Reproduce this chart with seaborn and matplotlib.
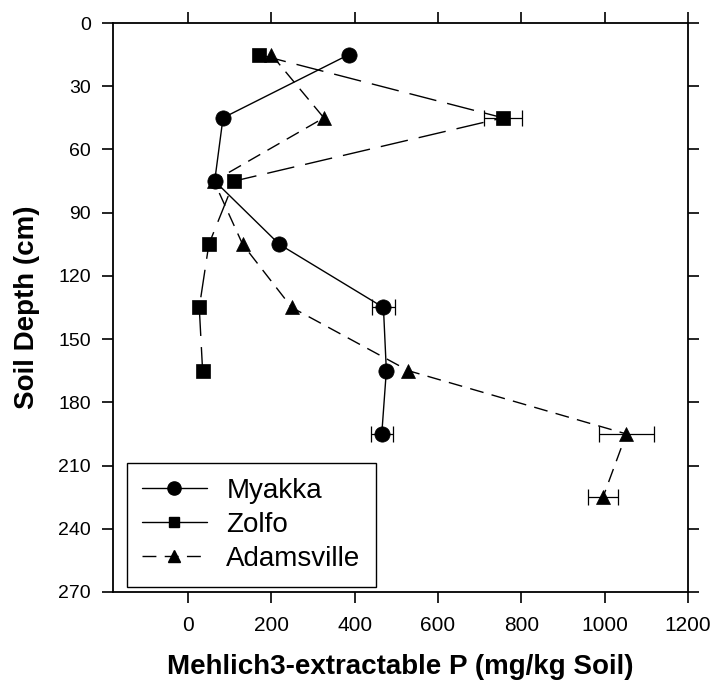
import matplotlib
matplotlib.use("Agg")
import matplotlib.pyplot as plt
from matplotlib.lines import Line2D
import seaborn as sns
import numpy as np

# ---- data ----
myakka_depth = [15, 45, 75, 105, 135, 165, 195]
myakka_p = [386, 84, 64, 219, 469, 476, 465]
myakka_err = [0, 0, 0, 0, 27, 0, 26]

zolfo_depth = [15, 45, 75, 105, 135, 165]
zolfo_p = [170, 756, 111, 50, 27, 35]
zolfo_err = [0, 45, 0, 0, 0, 0]

adams_depth = [15, 45, 75, 105, 135, 165, 195, 225]
adams_p = [200, 326, 62, 131, 249, 529, 1052, 996]
adams_err = [0, 0, 0, 0, 0, 0, 66, 37]

series_names = ["Myakka", "Zolfo", "Adamsville"]
x_ticks = [0, 200, 400, 600, 800, 1000, 1200]
y_ticks = [0, 30, 60, 90, 120, 150, 180, 210, 240, 270]

sns.set_theme(style="ticks")
plt.rcParams["font.family"] = ["Liberation Sans", "DejaVu Sans"]
plt.rcParams["text.color"] = "black"
plt.rcParams["axes.labelcolor"] = "black"
plt.rcParams["xtick.color"] = "black"
plt.rcParams["ytick.color"] = "black"

fig = plt.figure(figsize=(7.14, 6.85), dpi=100)
ax = fig.add_axes([0.1583, 0.1358, 0.8053, 0.8306])

specs = [
    (myakka_p, myakka_depth, myakka_err, "o", 11, "-"),
    (zolfo_p, zolfo_depth, zolfo_err, "s", 9.5, (0, (20, 8))),
    (adams_p, adams_depth, adams_err, "^", 10.5, (0, (10, 6))),
]

for vals, depths, errs, mk, ms, ls in specs:
    v = np.array(vals, dtype=float)
    d = np.array(depths, dtype=float)
    e = np.array(errs, dtype=float)
    m = e > 0
    ax.errorbar(v[m], d[m], xerr=e[m], fmt="none", ecolor="black",
                elinewidth=0.9, capsize=5.5, capthick=0.9, zorder=2)
    sns.lineplot(x=v, y=d, ax=ax, sort=False, estimator=None, color="black",
                 linewidth=1.0, linestyle=ls, marker=mk, markersize=ms,
                 markeredgecolor="black", markerfacecolor="black",
                 markeredgewidth=0.5, legend=False, zorder=3)

ax.set_xlim(-180, 1200)
ax.set_ylim(270, 0)
ax.set_xticks(x_ticks)
ax.set_yticks(y_ticks)
ax.tick_params(axis="both", direction="out", length=8, width=1.2,
               top=True, right=True, labeltop=False, labelright=False,
               colors="black", labelcolor="black")
ax.tick_params(axis="x", labelsize=15, pad=9)
ax.tick_params(axis="y", labelsize=14, pad=8)
for sp in ax.spines.values():
    sp.set_visible(True)
    sp.set_linewidth(1.3)
    sp.set_color("black")

ax.set_xlabel("Mehlich3-extractable P (mg/kg Soil)", fontsize=20,
              fontweight="bold", labelpad=14, color="black")
ax.set_ylabel("Soil Depth (cm)", fontsize=20, fontweight="bold", labelpad=13,
              color="black")

handles = [
    Line2D([], [], color="black", marker="o", markersize=9.5, linestyle="-", linewidth=1),
    Line2D([], [], color="black", marker="s", markersize=7.5, linestyle="-", linewidth=1),
    Line2D([], [], color="black", marker="^", markersize=9, linestyle=(0, (10, 6)), linewidth=1),
]
leg = ax.legend(handles, series_names, loc="lower left",
                bbox_to_anchor=(0.024, 0.009), borderaxespad=0,
                fontsize=20, frameon=True, fancybox=False, framealpha=1,
                edgecolor="black", handlelength=2.33, handletextpad=0.7,
                labelspacing=0.28, borderpad=0.55)
leg.get_frame().set_linewidth(1.0)
for t in leg.get_texts():
    t.set_color("black")

fig.savefig("out.png", dpi=100)
